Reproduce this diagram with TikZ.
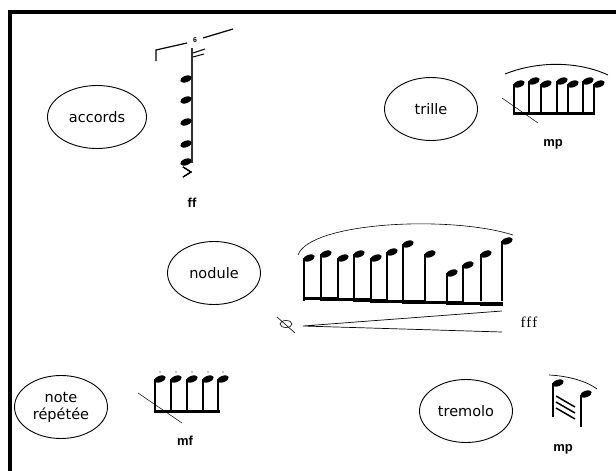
\documentclass[tikz,border=0pt]{standalone}
\usepackage{fontspec}
\setmainfont{DejaVu Sans}
\newfontfamily\nuancefont{Liberation Serif}
\newfontfamily\fortfont{Liberation Sans}
\usetikzlibrary{shapes.geometric}

\tikzset{
  idee/.style={draw, ellipse, line width=0.9pt, minimum width=93pt, minimum height=63pt,
    inner sep=0pt, align=center, font=\fontsize{14.5}{17}\selectfont},
  nuance/.style={inner sep=0pt, font=\fortfont\bfseries\fontsize{13}{15}\selectfont},
  hampe/.style={line width=1.6pt},
  barre/.style={line width=3pt},
  cadre/.style={line width=4pt}
}
\newcommand\tete[2]{\fill[rotate around={20:(#1,#2)}] (#1,#2) ellipse (6 and 3.2);}

\begin{document}
\begin{tikzpicture}[x=1pt,y=-1pt]
  \useasboundingbox (0,0) rectangle (616,471);
  % cadre
  \draw[cadre] (8,12) -- (616,12);
  \draw[cadre] (10,12) -- (10,471);

  % les idees
  \node[idee, minimum width=99pt] (accords) at (97,117) {accords};
  \node[idee] (trille) at (431,109) {trille};
  \node[idee] (nodule) at (214,273) {nodule};
  \node[idee] (repetee) at (61,407) {note\\répétée};
  \node[idee] (tremolo) at (466,411) {tremolo};

  % accords
  \draw[line width=1.2pt] (156,61) -- (156,50) -- (187,43);
  \node[inner sep=0pt, font=\fortfont\bfseries\fontsize{7}{8}\selectfont] (six) at (195,40) {6};
  \draw[line width=1.2pt] (203,38) -- (233,29);
  \draw[hampe, black!80] (192,48) -- (192,163);
  \draw[line width=1pt] (193,53) -- (205,49);
  \draw[line width=1pt] (193,57) -- (204,54);
  \foreach \y in {79,100,122,144,162}
    \tete{186}{\y}
  \draw[line width=0.9pt] (183,167) -- (191,172) -- (183,177);
  \node[nuance] (ff) at (192,203) {ff};

  % trille
  \draw[line width=0.9pt] (505,74) .. controls (540,60) and (580,62) .. (608,75);
  \foreach \x/\y in {514/84,529/81,541/84,557/81,568/84,583/81,594/84} {
    \draw[hampe] (\x,\y) -- (\x,113);
    \tete{\x+5}{\y}
  }
  \draw[barre] (513,113) -- (595,113);
  \draw[line width=0.5pt] (502,98) -- (538,123);
  \node[nuance] (mptrille) at (553,144) {mp};

  % nodule
  \draw[line width=0.6pt] (298,255) .. controls (310,222) and (450,215) .. (513,235);
  \foreach \x/\y in {304/258,321/254,338/258,354/254,371/258,387/252,403/244,425/254,447/273,463/265,481/254,502/241} {
    \draw[hampe] (\x,\y) -- (\x,301);
    \tete{\x+5}{\y}
  }
  \foreach \a/\b [count=\i] in {304/321,321/338,338/354,354/371,371/387,387/403,403/425,425/447,447/463,463/481,481/502}
    \draw[line width=3.5pt] (\a-0.8,298+0.55*\i) -- (\b+0.8,298+0.55*\i);
  \draw[line width=0.6pt] (286,324) ellipse (6 and 3.5);
  \draw[line width=0.6pt] (277,317) -- (295,333);
  \draw[line width=0.7pt] (502,311) -- (303,326) -- (502,332);
  \node[inner sep=0pt, font=\nuancefont\fontsize{15}{17}\selectfont] (fff) at (529,322) {f\kern1pt f\kern1pt f};

  % note repetee
  \foreach \x in {155,171,187,203,218} {
    \draw[hampe] (\x,379) -- (\x,411);
    \tete{\x+5}{379}
    \fill (\x+5,372) circle (0.7);
  }
  \draw[barre] (154,411) -- (220,411);
  \draw[line width=0.5pt] (138,393) -- (182,423);
  \node[nuance] (mf) at (185,441) {mf};

  % tremolo
  \draw[line width=0.7pt] (549,375) .. controls (570,376) and (588,382) .. (597,389);
  \draw[hampe] (553,383) -- (553,417);
  \tete{558}{383}
  \draw[hampe] (581,395) -- (581,427);
  \tete{586}{394}
  \foreach \k in {0,6,12}
    \draw[line width=1.5pt] (556,396+\k) -- (575,407+\k);
  \node[nuance] (mptremolo) at (563,449) {mp};
\end{tikzpicture}
\end{document}
